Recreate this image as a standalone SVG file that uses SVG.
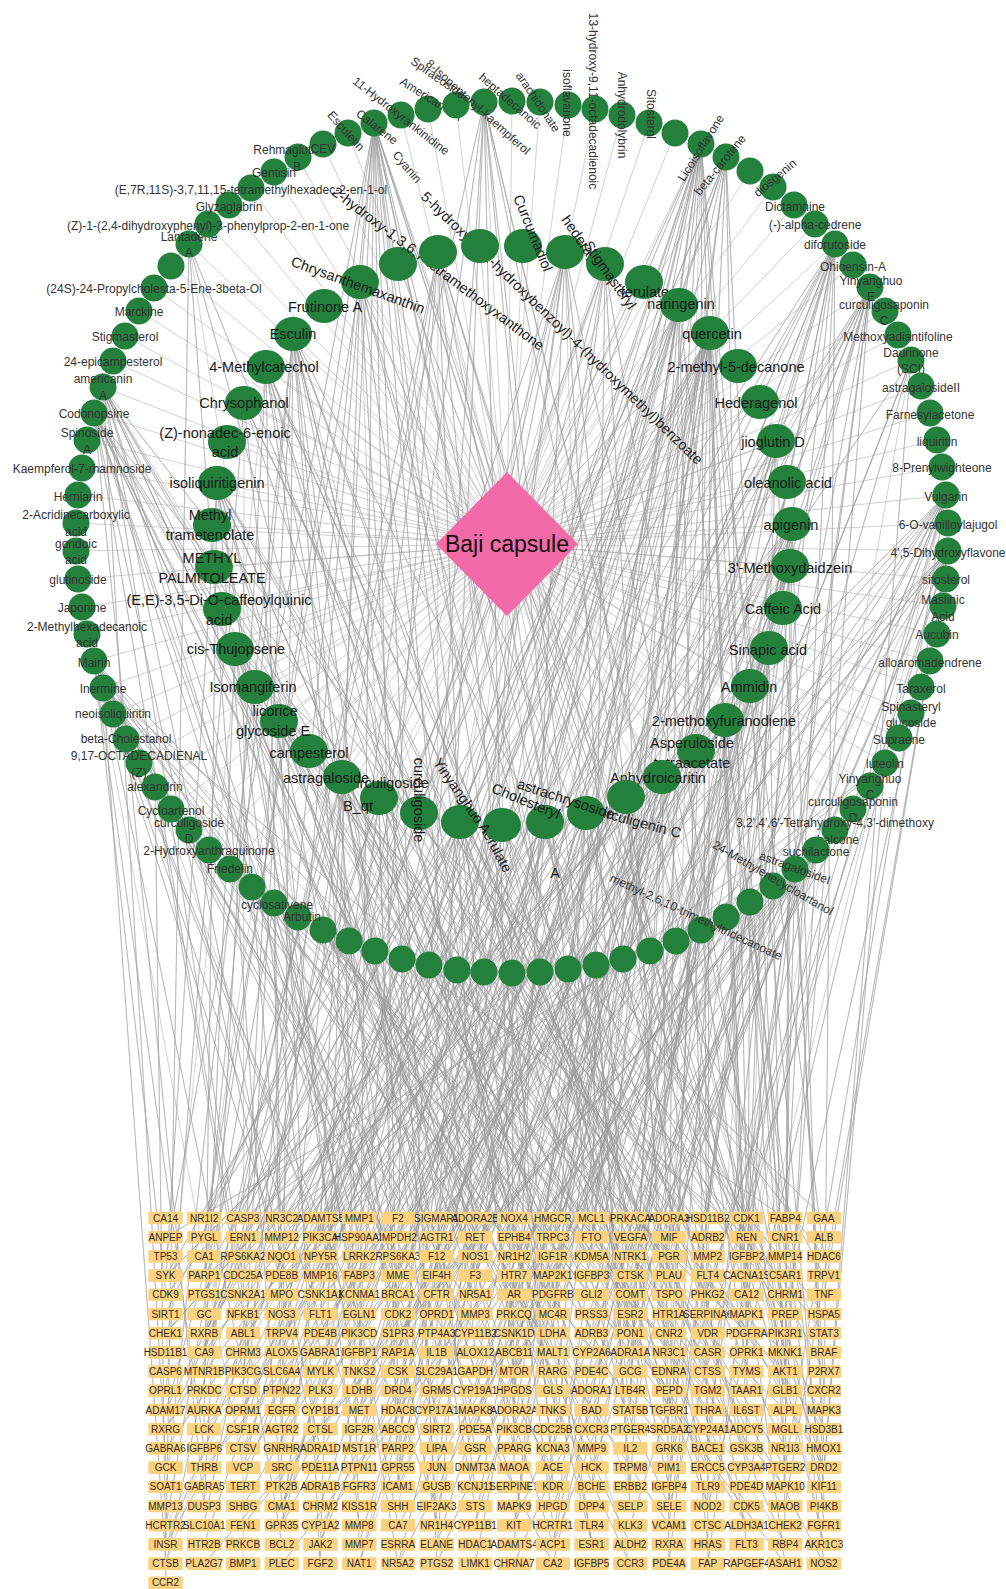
<svg xmlns="http://www.w3.org/2000/svg" width="1006" height="1589" viewBox="0 0 1006 1589">
<style>
text{font-family:"Liberation Sans",Arial,sans-serif;text-anchor:middle;dominant-baseline:central}
.e path{fill:none;stroke:#9c9c9c;stroke-width:.55;stroke-linejoin:round;opacity:.85}
.o circle{fill:#23803d}
.o text{font-size:12px;fill:#333}
.i ellipse{fill:#23803d}
.i text{font-size:14.5px;fill:#1a1a1a}
.t text{font-size:10px;fill:#2a2a2a}
.st{text-anchor:start}
</style>
<defs><rect id="b" x="-17.2" y="-6.3" width="34.5" height="12.6" rx="1.5" fill="#fdd27f"/></defs>
<rect width="1006" height="1589" fill="#fff"/>
<g id="edges" class="e">
<path d="M507 544L212 525M507 544L217 483M507 544L227 442M507 544L244 403M507 544L266 367M507 544L293 334M507 544L324 306M507 544L360 282M507 544L398 264M507 544L438 252M507 544L480 246M507 544L523 246M507 544L565 252M507 544L605 264M507 544L644 282M507 544L679 305M507 544L710 333M507 544L738 366M507 544L760 402M507 544L776 441M507 544L787 482M507 544L792 524M507 544L790 566M507 544L783 608M507 544L769 648M507 544L750 686M507 544L725 720M507 544L696 751M507 544L662 777M507 544L626 797M507 544L586 813M507 544L545 822M507 544L502 825M507 544L460 822M507 544L419 813M507 544L379 798M507 544L342 777M507 544L309 751M507 544L279 721M507 544L255 687M507 544L235 649M507 544L222 609M507 544L214 567"/>
<path d="M507 544L76 523M507 544L78 495M507 544L82 468M507 544L87 440M507 544L94 413M507 544L103 387M507 544L113 361M507 544L125 336M507 544L139 311M507 544L154 288M507 544L171 266M507 544L189 244M507 544L208 224M507 544L229 205M507 544L251 188M507 544L274 172M507 544L298 157M507 544L323 144M507 544L348 133M507 544L374 123M507 544L401 115M507 544L428 109M507 544L456 105M507 544L484 102M507 544L512 101M507 544L540 102M507 544L568 105M507 544L595 109M507 544L622 115M507 544L649 123M507 544L675 133M507 544L701 144M507 544L726 157M507 544L750 171M507 544L773 187M507 544L794 205M507 544L815 224M507 544L835 244M507 544L853 265M507 544L870 287M507 544L885 311M507 544L898 335M507 544L911 360M507 544L921 386M507 544L930 413M507 544L937 440M507 544L942 467M507 544L946 495M507 544L948 523M507 544L948 551M507 544L946 579M507 544L943 606M507 544L937 634M507 544L930 661M507 544L921 687M507 544L911 713M507 544L899 738M507 544L885 763M507 544L870 786M507 544L853 809M507 544L835 830M507 544L816 850M507 544L795 869M507 544L773 886M507 544L750 902M507 544L726 917M507 544L701 930M507 544L676 941M507 544L650 951M507 544L623 959M507 544L596 965M507 544L568 969M507 544L540 972M507 544L512 973M507 544L484 972M507 544L457 970M507 544L429 965M507 544L402 959M507 544L375 951M507 544L349 941M507 544L323 930M507 544L298 917M507 544L274 903M507 544L252 887M507 544L230 869M507 544L209 850M507 544L189 830M507 544L171 809M507 544L155 787M507 544L139 763M507 544L126 739M507 544L113 714M507 544L103 688M507 544L94 661M507 544L87 634M507 544L82 607M507 544L78 579M507 544L76 551"/>
<path d="M374 123L282 1218 374 123 475 1352 374 123 669 1487 374 123 166 1256 374 123 359 1391 374 123 553 1525 374 123 747 1295 374 123 243 1429 374 123 437 1564 374 123 630 1333 374 123 824 1468 374 123 320 1237 374 123 514 1372 374 123 708 1506 374 123 204 1276 374 123 398 1410 374 123 592 1544 374 123 785 1314"/>
<path d="M484 102L437 1276 484 102 630 1410 484 102 824 1544 484 102 320 1314 484 102 514 1448 484 102 708 1218 484 102 204 1352 484 102 398 1487 484 102 592 1256 484 102 785 1391"/>
<path d="M701 144L166 1314 701 144 359 1448 701 144 553 1218 701 144 747 1352 701 144 243 1487 701 144 437 1256 701 144 630 1391 701 144 824 1525 701 144 320 1295 701 144 514 1429 701 144 708 1564 701 144 204 1333 701 144 398 1468 701 144 592 1237 701 144 785 1372 701 144 282 1506 701 144 475 1276 701 144 669 1410"/>
<path d="M726 157L592 1237 726 157 785 1372 726 157 282 1506 726 157 475 1276 726 157 669 1410 726 157 166 1544 726 157 359 1314 726 157 553 1448 726 157 747 1218 726 157 243 1352"/>
<path d="M835 244L243 1372 835 244 437 1506 835 244 630 1276 835 244 824 1410 835 244 320 1544 835 244 514 1314 835 244 708 1448 835 244 204 1218 835 244 398 1352 835 244 592 1487 835 244 785 1256 835 244 282 1391 835 244 475 1525 835 244 669 1295 835 244 166 1429 835 244 359 1564"/>
<path d="M870 287L514 1429 870 287 708 1564 870 287 204 1333 870 287 398 1468 870 287 592 1237 870 287 785 1372 870 287 282 1506 870 287 475 1276 870 287 669 1410 870 287 166 1544 870 287 359 1314 870 287 553 1448 870 287 747 1218 870 287 243 1352"/>
<path d="M94 413L359 1256 94 413 553 1391 94 413 747 1525 94 413 243 1295 94 413 437 1429 94 413 630 1564 94 413 824 1333 94 413 320 1468 94 413 514 1237 94 413 708 1372 94 413 204 1506 94 413 398 1276 94 413 592 1410 94 413 785 1544"/>
<path d="M103 387L669 1333 103 387 166 1468 103 387 359 1237 103 387 553 1372 103 387 747 1506 103 387 243 1276 103 387 437 1410 103 387 630 1544 103 387 824 1314 103 387 320 1448 103 387 514 1218 103 387 708 1352"/>
<path d="M94 661L204 1448 94 661 398 1218 94 661 592 1352 94 661 785 1487 94 661 282 1256 94 661 475 1391 94 661 669 1525 94 661 166 1295 94 661 359 1429 94 661 553 1564 94 661 747 1333 94 661 243 1468"/>
<path d="M103 688L475 1295 103 688 669 1429 103 688 166 1564 103 688 359 1333 103 688 553 1468 103 688 747 1237 103 688 243 1372 103 688 437 1506 103 688 630 1276 103 688 824 1410"/>
<path d="M946 495L320 1391 946 495 514 1525 946 495 708 1295 946 495 204 1429 946 495 398 1564 946 495 592 1333 946 495 785 1468 946 495 282 1237 946 495 475 1372 946 495 669 1506 946 495 166 1276 946 495 359 1410 946 495 553 1544 946 495 747 1314"/>
<path d="M948 551L747 1487 948 551 243 1256 948 551 437 1391 948 551 630 1525 948 551 824 1295 948 551 320 1429 948 551 514 1564 948 551 708 1333 948 551 204 1468 948 551 398 1237 948 551 592 1372 948 551 785 1506 948 551 282 1276 948 551 475 1410"/>
<path d="M816 850L398 1525 816 850 592 1295 816 850 785 1429 816 850 282 1564 816 850 475 1333 816 850 669 1468 816 850 166 1237 816 850 359 1372 816 850 553 1506 816 850 747 1276"/>
<path d="M795 869L630 1256 795 869 824 1391 795 869 320 1525 795 869 514 1295 795 869 708 1429 795 869 204 1564 795 869 398 1333 795 869 592 1468 795 869 785 1237 795 869 282 1372"/>
<path d="M596 965L553 1314 596 965 747 1448 596 965 243 1218 596 965 437 1352 596 965 630 1487 596 965 824 1256 596 965 320 1391 596 965 514 1525"/>
<path d="M402 959L708 1410 402 959 204 1544 402 959 398 1314 402 959 592 1448 402 959 785 1218 402 959 282 1352 402 959 475 1487 402 959 669 1256"/>
<path d="M274 903L785 1352 274 903 282 1487 274 903 475 1256 274 903 669 1391 274 903 166 1525 274 903 359 1295"/>
<path d="M885 763L824 1468 885 763 320 1237 885 763 514 1372 885 763 708 1506 885 763 204 1276 885 763 398 1410"/>
<path d="M189 244L282 1506 189 244 475 1276 189 244 669 1410 189 244 166 1544 189 244 359 1314"/>
<path d="M911 360L437 1564 911 360 630 1333 911 360 824 1468 911 360 320 1237 911 360 514 1372 911 360 708 1506"/>
<path d="M293 334L204 1276 293 334 398 1410 293 334 592 1544 293 334 785 1314 293 334 282 1448 293 334 475 1218 293 334 669 1352 293 334 166 1487 293 334 359 1256 293 334 553 1391 293 334 747 1525 293 334 243 1295 293 334 437 1429 293 334 630 1564"/>
<path d="M266 367L514 1237 266 367 708 1372 266 367 204 1506 266 367 398 1276 266 367 592 1410 266 367 785 1544 266 367 282 1314 266 367 475 1448 266 367 669 1218 266 367 166 1352"/>
<path d="M710 333L166 1410 710 333 359 1544 710 333 553 1314 710 333 747 1448 710 333 243 1218 710 333 437 1352 710 333 630 1487 710 333 824 1256 710 333 320 1391 710 333 514 1525 710 333 708 1295 710 333 204 1429 710 333 398 1564 710 333 592 1333 710 333 785 1468 710 333 282 1237 710 333 475 1372 710 333 669 1506 710 333 166 1276 710 333 359 1410 710 333 553 1544 710 333 747 1314 710 333 243 1448 710 333 437 1218"/>
<path d="M679 305L320 1544 679 305 514 1314 679 305 708 1448 679 305 204 1218 679 305 398 1352 679 305 592 1487 679 305 785 1256 679 305 282 1391 679 305 475 1525 679 305 669 1295 679 305 166 1429 679 305 359 1564"/>
<path d="M792 524L592 1352 792 524 785 1487 792 524 282 1256 792 524 475 1391 792 524 669 1525 792 524 166 1295 792 524 359 1429 792 524 553 1564 792 524 747 1333 792 524 243 1468 792 524 437 1237 792 524 630 1372 792 524 824 1506 792 524 320 1276"/>
<path d="M217 483L708 1295 217 483 204 1429 217 483 398 1564 217 483 592 1333 217 483 785 1468 217 483 282 1237 217 483 475 1372 217 483 669 1506 217 483 166 1276 217 483 359 1410 217 483 553 1544 217 483 747 1314"/>
<path d="M565 252L243 1468 565 252 437 1237 565 252 630 1372 565 252 824 1506 565 252 320 1276 565 252 514 1410 565 252 708 1544 565 252 204 1314 565 252 398 1448 565 252 592 1218"/>
<path d="M438 252L785 1391 438 252 282 1525 438 252 475 1295 438 252 669 1429 438 252 166 1564 438 252 359 1333 438 252 553 1468 438 252 747 1237 438 252 243 1372 438 252 437 1506"/>
<path d="M769 648L398 1256 769 648 592 1391 769 648 785 1525 769 648 282 1295 769 648 475 1429 769 648 669 1564 769 648 166 1333 769 648 359 1468 769 648 553 1237 769 648 747 1372"/>
<path d="M725 720L669 1506 725 720 166 1276 725 720 359 1410 725 720 553 1544 725 720 747 1314 725 720 243 1448 725 720 437 1218 725 720 630 1352 725 720 824 1487 725 720 320 1256"/>
<path d="M662 777L475 1429 662 777 669 1564 662 777 166 1333 662 777 359 1468 662 777 553 1237 662 777 747 1372 662 777 243 1506 662 777 437 1276 662 777 630 1410 662 777 824 1544"/>
<path d="M586 813L359 1564 586 813 553 1333 586 813 747 1468 586 813 243 1237 586 813 437 1372 586 813 630 1506 586 813 824 1276 586 813 320 1410 586 813 514 1544 586 813 708 1314"/>
<path d="M460 822L630 1333 460 822 824 1468 460 822 320 1237 460 822 514 1372 460 822 708 1506 460 822 204 1276 460 822 398 1410 460 822 592 1544 460 822 785 1314 460 822 282 1448"/>
<path d="M342 777L282 1372 342 777 475 1506 342 777 669 1276 342 777 166 1410 342 777 359 1544 342 777 553 1314 342 777 747 1448 342 777 243 1218 342 777 437 1352 342 777 630 1487"/>
<path d="M279 721L553 1487 279 721 747 1256 279 721 243 1391 279 721 437 1525 279 721 630 1295 279 721 824 1429 279 721 320 1564 279 721 514 1333 279 721 708 1468 279 721 204 1237"/>
<path d="M235 649L824 1218 235 649 320 1352 235 649 514 1487 235 649 708 1256 235 649 204 1391 235 649 398 1525 235 649 592 1295 235 649 785 1429"/>
<path d="M776 441L747 1276 776 441 243 1410 776 441 437 1544 776 441 630 1314 776 441 824 1448 776 441 320 1218 776 441 514 1352 776 441 708 1487"/>
<path d="M360 282L437 1525 360 282 630 1295 360 282 824 1429 360 282 320 1564 360 282 514 1333 360 282 708 1468 360 282 204 1237 360 282 398 1372"/>
<path d="M605 264L204 1352 605 264 398 1487 605 264 592 1256 605 264 785 1391 605 264 282 1525 605 264 475 1295 605 264 669 1429 605 264 166 1564"/>
<path d="M790 566L514 1448 790 566 708 1218 790 566 204 1352 790 566 398 1487 790 566 592 1256 790 566 785 1391 790 566 282 1525 790 566 475 1295"/>
<path d="M244 403L669 1256 244 403 166 1391 244 403 359 1525 244 403 553 1295 244 403 747 1429 244 403 243 1564"/>
<path d="M379 798L320 1314 379 798 514 1448 379 798 708 1218 379 798 204 1352 379 798 398 1487 379 798 592 1256 379 798 785 1391 379 798 282 1525"/>
<path d="M545 822L243 1333 545 822 437 1468 545 822 630 1237 545 822 824 1372 545 822 320 1506 545 822 514 1256 545 822 708 1391 545 822 166 1525"/>
<path d="M502 825L359 1352 502 825 553 1487 502 825 747 1256 502 825 243 1410 502 825 437 1544 502 825 630 1314 502 825 785 1448 502 825 204 1295"/>
<path d="M626 797L282 1429 626 797 475 1564 626 797 669 1333 626 797 166 1448 626 797 359 1276 626 797 553 1410 626 797 747 1544 626 797 824 1352"/>
<path d="M701 930L398 1295 701 930 592 1429 701 930 785 1564 701 930 282 1333 701 930 475 1468 701 930 669 1237 701 930 166 1372"/>
<path d="M323 930L514 1256 323 930 708 1391 323 930 204 1525 323 930 398 1295 323 930 592 1429 323 930 785 1564 323 930 630 1333"/>
<path d="M512 973L437 1295 512 973 630 1429 512 973 824 1564 512 973 320 1333 512 973 514 1468 512 973 708 1237 512 973 204 1372 512 973 398 1506"/>
<path d="M750 902L553 1256 750 902 747 1391 750 902 243 1525 750 902 437 1295 750 902 630 1429 750 902 824 1564 750 902 320 1333"/>
<path d="M155 787L592 1276 155 787 785 1410 155 787 282 1544 155 787 475 1314 155 787 669 1448 155 787 166 1583 155 787 359 1352"/>
</g>
<g id="targets" class="t">
<g transform="translate(0,1218)">
<g id="t-CA14" transform="translate(165.5)"><use href="#b"/><text>CA14</text></g>
<g id="t-NR1I2" transform="translate(204.2)"><use href="#b"/><text>NR1I2</text></g>
<g id="t-CASP3" transform="translate(243)"><use href="#b"/><text>CASP3</text></g>
<g id="t-NR3C2" transform="translate(281.7)"><use href="#b"/><text>NR3C2</text></g>
<g id="t-ADAMTS5" transform="translate(320.4)"><use href="#b"/><text>ADAMTS5</text></g>
<g id="t-MMP1" transform="translate(359.2)"><use href="#b"/><text>MMP1</text></g>
<g id="t-F2" transform="translate(397.9)"><use href="#b"/><text>F2</text></g>
<g id="t-SIGMAR1" transform="translate(436.6)"><use href="#b"/><text>SIGMAR1</text></g>
<g id="t-ADORA2B" transform="translate(475.3)"><use href="#b"/><text>ADORA2B</text></g>
<g id="t-NOX4" transform="translate(514.1)"><use href="#b"/><text>NOX4</text></g>
<g id="t-HMGCR" transform="translate(552.8)"><use href="#b"/><text>HMGCR</text></g>
<g id="t-MCL1" transform="translate(591.5)"><use href="#b"/><text>MCL1</text></g>
<g id="t-PRKACA" transform="translate(630.3)"><use href="#b"/><text>PRKACA</text></g>
<g id="t-ADORA3" transform="translate(669)"><use href="#b"/><text>ADORA3</text></g>
<g id="t-HSD11B2" transform="translate(707.7)"><use href="#b"/><text>HSD11B2</text></g>
<g id="t-CDK1" transform="translate(746.5)"><use href="#b"/><text>CDK1</text></g>
<g id="t-FABP4" transform="translate(785.2)"><use href="#b"/><text>FABP4</text></g>
<g id="t-GAA" transform="translate(823.9)"><use href="#b"/><text>GAA</text></g>
</g>
<g transform="translate(0,1237.2)">
<g id="t-ANPEP" transform="translate(165.5)"><use href="#b"/><text>ANPEP</text></g>
<g id="t-PYGL" transform="translate(204.2)"><use href="#b"/><text>PYGL</text></g>
<g id="t-ERN1" transform="translate(243)"><use href="#b"/><text>ERN1</text></g>
<g id="t-MMP12" transform="translate(281.7)"><use href="#b"/><text>MMP12</text></g>
<g id="t-PIK3CA" transform="translate(320.4)"><use href="#b"/><text>PIK3CA</text></g>
<g id="t-HSP90AA1" transform="translate(359.2)"><use href="#b"/><text>HSP90AA1</text></g>
<g id="t-IMPDH2" transform="translate(397.9)"><use href="#b"/><text>IMPDH2</text></g>
<g id="t-AGTR1" transform="translate(436.6)"><use href="#b"/><text>AGTR1</text></g>
<g id="t-RET" transform="translate(475.3)"><use href="#b"/><text>RET</text></g>
<g id="t-EPHB4" transform="translate(514.1)"><use href="#b"/><text>EPHB4</text></g>
<g id="t-TRPC3" transform="translate(552.8)"><use href="#b"/><text>TRPC3</text></g>
<g id="t-FTO" transform="translate(591.5)"><use href="#b"/><text>FTO</text></g>
<g id="t-VEGFA" transform="translate(630.3)"><use href="#b"/><text>VEGFA</text></g>
<g id="t-MIF" transform="translate(669)"><use href="#b"/><text>MIF</text></g>
<g id="t-ADRB2" transform="translate(707.7)"><use href="#b"/><text>ADRB2</text></g>
<g id="t-REN" transform="translate(746.5)"><use href="#b"/><text>REN</text></g>
<g id="t-CNR1" transform="translate(785.2)"><use href="#b"/><text>CNR1</text></g>
<g id="t-ALB" transform="translate(823.9)"><use href="#b"/><text>ALB</text></g>
</g>
<g transform="translate(0,1256.4)">
<g id="t-TP53" transform="translate(165.5)"><use href="#b"/><text>TP53</text></g>
<g id="t-CA1" transform="translate(204.2)"><use href="#b"/><text>CA1</text></g>
<g id="t-RPS6KA2" transform="translate(243)"><use href="#b"/><text>RPS6KA2</text></g>
<g id="t-NQO1" transform="translate(281.7)"><use href="#b"/><text>NQO1</text></g>
<g id="t-NPY5R" transform="translate(320.4)"><use href="#b"/><text>NPY5R</text></g>
<g id="t-LRRK2" transform="translate(359.2)"><use href="#b"/><text>LRRK2</text></g>
<g id="t-RPS6KA3" transform="translate(397.9)"><use href="#b"/><text>RPS6KA3</text></g>
<g id="t-F12" transform="translate(436.6)"><use href="#b"/><text>F12</text></g>
<g id="t-NOS1" transform="translate(475.3)"><use href="#b"/><text>NOS1</text></g>
<g id="t-NR1H2" transform="translate(514.1)"><use href="#b"/><text>NR1H2</text></g>
<g id="t-IGF1R" transform="translate(552.8)"><use href="#b"/><text>IGF1R</text></g>
<g id="t-KDM5A" transform="translate(591.5)"><use href="#b"/><text>KDM5A</text></g>
<g id="t-NTRK1" transform="translate(630.3)"><use href="#b"/><text>NTRK1</text></g>
<g id="t-PGR" transform="translate(669)"><use href="#b"/><text>PGR</text></g>
<g id="t-MMP2" transform="translate(707.7)"><use href="#b"/><text>MMP2</text></g>
<g id="t-IGFBP2" transform="translate(746.5)"><use href="#b"/><text>IGFBP2</text></g>
<g id="t-MMP14" transform="translate(785.2)"><use href="#b"/><text>MMP14</text></g>
<g id="t-HDAC6" transform="translate(823.9)"><use href="#b"/><text>HDAC6</text></g>
</g>
<g transform="translate(0,1275.6)">
<g id="t-SYK" transform="translate(165.5)"><use href="#b"/><text>SYK</text></g>
<g id="t-PARP1" transform="translate(204.2)"><use href="#b"/><text>PARP1</text></g>
<g id="t-CDC25A" transform="translate(243)"><use href="#b"/><text>CDC25A</text></g>
<g id="t-PDE8B" transform="translate(281.7)"><use href="#b"/><text>PDE8B</text></g>
<g id="t-MMP16" transform="translate(320.4)"><use href="#b"/><text>MMP16</text></g>
<g id="t-FABP3" transform="translate(359.2)"><use href="#b"/><text>FABP3</text></g>
<g id="t-MME" transform="translate(397.9)"><use href="#b"/><text>MME</text></g>
<g id="t-EIF4H" transform="translate(436.6)"><use href="#b"/><text>EIF4H</text></g>
<g id="t-F3" transform="translate(475.3)"><use href="#b"/><text>F3</text></g>
<g id="t-HTR7" transform="translate(514.1)"><use href="#b"/><text>HTR7</text></g>
<g id="t-MAP2K1" transform="translate(552.8)"><use href="#b"/><text>MAP2K1</text></g>
<g id="t-IGFBP3" transform="translate(591.5)"><use href="#b"/><text>IGFBP3</text></g>
<g id="t-CTSK" transform="translate(630.3)"><use href="#b"/><text>CTSK</text></g>
<g id="t-PLAU" transform="translate(669)"><use href="#b"/><text>PLAU</text></g>
<g id="t-FLT4" transform="translate(707.7)"><use href="#b"/><text>FLT4</text></g>
<g id="t-CACNA1S" transform="translate(746.5)"><use href="#b"/><text>CACNA1S</text></g>
<g id="t-C5AR1" transform="translate(785.2)"><use href="#b"/><text>C5AR1</text></g>
<g id="t-TRPV1" transform="translate(823.9)"><use href="#b"/><text>TRPV1</text></g>
</g>
<g transform="translate(0,1294.8)">
<g id="t-CDK9" transform="translate(165.5)"><use href="#b"/><text>CDK9</text></g>
<g id="t-PTGS1" transform="translate(204.2)"><use href="#b"/><text>PTGS1</text></g>
<g id="t-CSNK2A1" transform="translate(243)"><use href="#b"/><text>CSNK2A1</text></g>
<g id="t-MPO" transform="translate(281.7)"><use href="#b"/><text>MPO</text></g>
<g id="t-CSNK1A1" transform="translate(320.4)"><use href="#b"/><text>CSNK1A1</text></g>
<g id="t-KCNMA1" transform="translate(359.2)"><use href="#b"/><text>KCNMA1</text></g>
<g id="t-BRCA1" transform="translate(397.9)"><use href="#b"/><text>BRCA1</text></g>
<g id="t-CFTR" transform="translate(436.6)"><use href="#b"/><text>CFTR</text></g>
<g id="t-NR5A1" transform="translate(475.3)"><use href="#b"/><text>NR5A1</text></g>
<g id="t-AR" transform="translate(514.1)"><use href="#b"/><text>AR</text></g>
<g id="t-PDGFRB" transform="translate(552.8)"><use href="#b"/><text>PDGFRB</text></g>
<g id="t-GLI2" transform="translate(591.5)"><use href="#b"/><text>GLI2</text></g>
<g id="t-COMT" transform="translate(630.3)"><use href="#b"/><text>COMT</text></g>
<g id="t-TSPO" transform="translate(669)"><use href="#b"/><text>TSPO</text></g>
<g id="t-PHKG2" transform="translate(707.7)"><use href="#b"/><text>PHKG2</text></g>
<g id="t-CA12" transform="translate(746.5)"><use href="#b"/><text>CA12</text></g>
<g id="t-CHRM1" transform="translate(785.2)"><use href="#b"/><text>CHRM1</text></g>
<g id="t-TNF" transform="translate(823.9)"><use href="#b"/><text>TNF</text></g>
</g>
<g transform="translate(0,1314)">
<g id="t-SIRT1" transform="translate(165.5)"><use href="#b"/><text>SIRT1</text></g>
<g id="t-GC" transform="translate(204.2)"><use href="#b"/><text>GC</text></g>
<g id="t-NFKB1" transform="translate(243)"><use href="#b"/><text>NFKB1</text></g>
<g id="t-NOS3" transform="translate(281.7)"><use href="#b"/><text>NOS3</text></g>
<g id="t-FLT1" transform="translate(320.4)"><use href="#b"/><text>FLT1</text></g>
<g id="t-EGLN1" transform="translate(359.2)"><use href="#b"/><text>EGLN1</text></g>
<g id="t-CDK2" transform="translate(397.9)"><use href="#b"/><text>CDK2</text></g>
<g id="t-OPRD1" transform="translate(436.6)"><use href="#b"/><text>OPRD1</text></g>
<g id="t-MMP3" transform="translate(475.3)"><use href="#b"/><text>MMP3</text></g>
<g id="t-PRKCQ" transform="translate(514.1)"><use href="#b"/><text>PRKCQ</text></g>
<g id="t-MC4R" transform="translate(552.8)"><use href="#b"/><text>MC4R</text></g>
<g id="t-PRSS3" transform="translate(591.5)"><use href="#b"/><text>PRSS3</text></g>
<g id="t-ESR2" transform="translate(630.3)"><use href="#b"/><text>ESR2</text></g>
<g id="t-HTR1A" transform="translate(669)"><use href="#b"/><text>HTR1A</text></g>
<g id="t-SERPINA6" transform="translate(707.7)"><use href="#b"/><text>SERPINA6</text></g>
<g id="t-MAPK1" transform="translate(746.5)"><use href="#b"/><text>MAPK1</text></g>
<g id="t-PREP" transform="translate(785.2)"><use href="#b"/><text>PREP</text></g>
<g id="t-HSPA5" transform="translate(823.9)"><use href="#b"/><text>HSPA5</text></g>
</g>
<g transform="translate(0,1333.2)">
<g id="t-CHEK1" transform="translate(165.5)"><use href="#b"/><text>CHEK1</text></g>
<g id="t-RXRB" transform="translate(204.2)"><use href="#b"/><text>RXRB</text></g>
<g id="t-ABL1" transform="translate(243)"><use href="#b"/><text>ABL1</text></g>
<g id="t-TRPV4" transform="translate(281.7)"><use href="#b"/><text>TRPV4</text></g>
<g id="t-PDE4B" transform="translate(320.4)"><use href="#b"/><text>PDE4B</text></g>
<g id="t-PIK3CD" transform="translate(359.2)"><use href="#b"/><text>PIK3CD</text></g>
<g id="t-S1PR3" transform="translate(397.9)"><use href="#b"/><text>S1PR3</text></g>
<g id="t-PTP4A3" transform="translate(436.6)"><use href="#b"/><text>PTP4A3</text></g>
<g id="t-CYP11B2" transform="translate(475.3)"><use href="#b"/><text>CYP11B2</text></g>
<g id="t-CSNK1D" transform="translate(514.1)"><use href="#b"/><text>CSNK1D</text></g>
<g id="t-LDHA" transform="translate(552.8)"><use href="#b"/><text>LDHA</text></g>
<g id="t-ADRB3" transform="translate(591.5)"><use href="#b"/><text>ADRB3</text></g>
<g id="t-PON1" transform="translate(630.3)"><use href="#b"/><text>PON1</text></g>
<g id="t-CNR2" transform="translate(669)"><use href="#b"/><text>CNR2</text></g>
<g id="t-VDR" transform="translate(707.7)"><use href="#b"/><text>VDR</text></g>
<g id="t-PDGFRA" transform="translate(746.5)"><use href="#b"/><text>PDGFRA</text></g>
<g id="t-PIK3R1" transform="translate(785.2)"><use href="#b"/><text>PIK3R1</text></g>
<g id="t-STAT3" transform="translate(823.9)"><use href="#b"/><text>STAT3</text></g>
</g>
<g transform="translate(0,1352.4)">
<g id="t-HSD11B1" transform="translate(165.5)"><use href="#b"/><text>HSD11B1</text></g>
<g id="t-CA9" transform="translate(204.2)"><use href="#b"/><text>CA9</text></g>
<g id="t-CHRM3" transform="translate(243)"><use href="#b"/><text>CHRM3</text></g>
<g id="t-ALOX5" transform="translate(281.7)"><use href="#b"/><text>ALOX5</text></g>
<g id="t-GABRA1" transform="translate(320.4)"><use href="#b"/><text>GABRA1</text></g>
<g id="t-IGFBP1" transform="translate(359.2)"><use href="#b"/><text>IGFBP1</text></g>
<g id="t-RAP1A" transform="translate(397.9)"><use href="#b"/><text>RAP1A</text></g>
<g id="t-IL1B" transform="translate(436.6)"><use href="#b"/><text>IL1B</text></g>
<g id="t-ALOX12" transform="translate(475.3)"><use href="#b"/><text>ALOX12</text></g>
<g id="t-ABCB11" transform="translate(514.1)"><use href="#b"/><text>ABCB11</text></g>
<g id="t-MALT1" transform="translate(552.8)"><use href="#b"/><text>MALT1</text></g>
<g id="t-CYP2A6" transform="translate(591.5)"><use href="#b"/><text>CYP2A6</text></g>
<g id="t-ADRA1A" transform="translate(630.3)"><use href="#b"/><text>ADRA1A</text></g>
<g id="t-NR3C1" transform="translate(669)"><use href="#b"/><text>NR3C1</text></g>
<g id="t-CASR" transform="translate(707.7)"><use href="#b"/><text>CASR</text></g>
<g id="t-OPRK1" transform="translate(746.5)"><use href="#b"/><text>OPRK1</text></g>
<g id="t-MKNK1" transform="translate(785.2)"><use href="#b"/><text>MKNK1</text></g>
<g id="t-BRAF" transform="translate(823.9)"><use href="#b"/><text>BRAF</text></g>
</g>
<g transform="translate(0,1371.6)">
<g id="t-CASP6" transform="translate(165.5)"><use href="#b"/><text>CASP6</text></g>
<g id="t-MTNR1B" transform="translate(204.2)"><use href="#b"/><text>MTNR1B</text></g>
<g id="t-PIK3CG" transform="translate(243)"><use href="#b"/><text>PIK3CG</text></g>
<g id="t-SLC6A4" transform="translate(281.7)"><use href="#b"/><text>SLC6A4</text></g>
<g id="t-MYLK" transform="translate(320.4)"><use href="#b"/><text>MYLK</text></g>
<g id="t-TNKS2" transform="translate(359.2)"><use href="#b"/><text>TNKS2</text></g>
<g id="t-CSK" transform="translate(397.9)"><use href="#b"/><text>CSK</text></g>
<g id="t-SLC29A1" transform="translate(436.6)"><use href="#b"/><text>SLC29A1</text></g>
<g id="t-GAPDH" transform="translate(475.3)"><use href="#b"/><text>GAPDH</text></g>
<g id="t-MTOR" transform="translate(514.1)"><use href="#b"/><text>MTOR</text></g>
<g id="t-RARG" transform="translate(552.8)"><use href="#b"/><text>RARG</text></g>
<g id="t-PDE4C" transform="translate(591.5)"><use href="#b"/><text>PDE4C</text></g>
<g id="t-GCG" transform="translate(630.3)"><use href="#b"/><text>GCG</text></g>
<g id="t-EDNRA" transform="translate(669)"><use href="#b"/><text>EDNRA</text></g>
<g id="t-CTSS" transform="translate(707.7)"><use href="#b"/><text>CTSS</text></g>
<g id="t-TYMS" transform="translate(746.5)"><use href="#b"/><text>TYMS</text></g>
<g id="t-AKT1" transform="translate(785.2)"><use href="#b"/><text>AKT1</text></g>
<g id="t-P2RX7" transform="translate(823.9)"><use href="#b"/><text>P2RX7</text></g>
</g>
<g transform="translate(0,1390.8)">
<g id="t-OPRL1" transform="translate(165.5)"><use href="#b"/><text>OPRL1</text></g>
<g id="t-PRKDC" transform="translate(204.2)"><use href="#b"/><text>PRKDC</text></g>
<g id="t-CTSD" transform="translate(243)"><use href="#b"/><text>CTSD</text></g>
<g id="t-PTPN22" transform="translate(281.7)"><use href="#b"/><text>PTPN22</text></g>
<g id="t-PLK3" transform="translate(320.4)"><use href="#b"/><text>PLK3</text></g>
<g id="t-LDHB" transform="translate(359.2)"><use href="#b"/><text>LDHB</text></g>
<g id="t-DRD4" transform="translate(397.9)"><use href="#b"/><text>DRD4</text></g>
<g id="t-GRM5" transform="translate(436.6)"><use href="#b"/><text>GRM5</text></g>
<g id="t-CYP19A1" transform="translate(475.3)"><use href="#b"/><text>CYP19A1</text></g>
<g id="t-HPGDS" transform="translate(514.1)"><use href="#b"/><text>HPGDS</text></g>
<g id="t-GLS" transform="translate(552.8)"><use href="#b"/><text>GLS</text></g>
<g id="t-ADORA1" transform="translate(591.5)"><use href="#b"/><text>ADORA1</text></g>
<g id="t-LTB4R" transform="translate(630.3)"><use href="#b"/><text>LTB4R</text></g>
<g id="t-PEPD" transform="translate(669)"><use href="#b"/><text>PEPD</text></g>
<g id="t-TGM2" transform="translate(707.7)"><use href="#b"/><text>TGM2</text></g>
<g id="t-TAAR1" transform="translate(746.5)"><use href="#b"/><text>TAAR1</text></g>
<g id="t-GLB1" transform="translate(785.2)"><use href="#b"/><text>GLB1</text></g>
<g id="t-CXCR2" transform="translate(823.9)"><use href="#b"/><text>CXCR2</text></g>
</g>
<g transform="translate(0,1410)">
<g id="t-ADAM17" transform="translate(165.5)"><use href="#b"/><text>ADAM17</text></g>
<g id="t-AURKA" transform="translate(204.2)"><use href="#b"/><text>AURKA</text></g>
<g id="t-OPRM1" transform="translate(243)"><use href="#b"/><text>OPRM1</text></g>
<g id="t-EGFR" transform="translate(281.7)"><use href="#b"/><text>EGFR</text></g>
<g id="t-CYP1B1" transform="translate(320.4)"><use href="#b"/><text>CYP1B1</text></g>
<g id="t-MET" transform="translate(359.2)"><use href="#b"/><text>MET</text></g>
<g id="t-HDAC8" transform="translate(397.9)"><use href="#b"/><text>HDAC8</text></g>
<g id="t-CYP17A1" transform="translate(436.6)"><use href="#b"/><text>CYP17A1</text></g>
<g id="t-MAPK8" transform="translate(475.3)"><use href="#b"/><text>MAPK8</text></g>
<g id="t-ADORA2A" transform="translate(514.1)"><use href="#b"/><text>ADORA2A</text></g>
<g id="t-TNKS" transform="translate(552.8)"><use href="#b"/><text>TNKS</text></g>
<g id="t-BAD" transform="translate(591.5)"><use href="#b"/><text>BAD</text></g>
<g id="t-STAT5B" transform="translate(630.3)"><use href="#b"/><text>STAT5B</text></g>
<g id="t-TGFBR1" transform="translate(669)"><use href="#b"/><text>TGFBR1</text></g>
<g id="t-THRA" transform="translate(707.7)"><use href="#b"/><text>THRA</text></g>
<g id="t-IL6ST" transform="translate(746.5)"><use href="#b"/><text>IL6ST</text></g>
<g id="t-ALPL" transform="translate(785.2)"><use href="#b"/><text>ALPL</text></g>
<g id="t-MAPK3" transform="translate(823.9)"><use href="#b"/><text>MAPK3</text></g>
</g>
<g transform="translate(0,1429.2)">
<g id="t-RXRG" transform="translate(165.5)"><use href="#b"/><text>RXRG</text></g>
<g id="t-LCK" transform="translate(204.2)"><use href="#b"/><text>LCK</text></g>
<g id="t-CSF1R" transform="translate(243)"><use href="#b"/><text>CSF1R</text></g>
<g id="t-AGTR2" transform="translate(281.7)"><use href="#b"/><text>AGTR2</text></g>
<g id="t-CTSL" transform="translate(320.4)"><use href="#b"/><text>CTSL</text></g>
<g id="t-IGF2R" transform="translate(359.2)"><use href="#b"/><text>IGF2R</text></g>
<g id="t-ABCC9" transform="translate(397.9)"><use href="#b"/><text>ABCC9</text></g>
<g id="t-SIRT2" transform="translate(436.6)"><use href="#b"/><text>SIRT2</text></g>
<g id="t-PDE5A" transform="translate(475.3)"><use href="#b"/><text>PDE5A</text></g>
<g id="t-PIK3CB" transform="translate(514.1)"><use href="#b"/><text>PIK3CB</text></g>
<g id="t-CDC25B" transform="translate(552.8)"><use href="#b"/><text>CDC25B</text></g>
<g id="t-CXCR3" transform="translate(591.5)"><use href="#b"/><text>CXCR3</text></g>
<g id="t-PTGER4" transform="translate(630.3)"><use href="#b"/><text>PTGER4</text></g>
<g id="t-SRD5A2" transform="translate(669)"><use href="#b"/><text>SRD5A2</text></g>
<g id="t-CYP24A1" transform="translate(707.7)"><use href="#b"/><text>CYP24A1</text></g>
<g id="t-ADCY5" transform="translate(746.5)"><use href="#b"/><text>ADCY5</text></g>
<g id="t-MGLL" transform="translate(785.2)"><use href="#b"/><text>MGLL</text></g>
<g id="t-HSD3B1" transform="translate(823.9)"><use href="#b"/><text>HSD3B1</text></g>
</g>
<g transform="translate(0,1448.4)">
<g id="t-GABRA6" transform="translate(165.5)"><use href="#b"/><text>GABRA6</text></g>
<g id="t-IGFBP6" transform="translate(204.2)"><use href="#b"/><text>IGFBP6</text></g>
<g id="t-CTSV" transform="translate(243)"><use href="#b"/><text>CTSV</text></g>
<g id="t-GNRHR" transform="translate(281.7)"><use href="#b"/><text>GNRHR</text></g>
<g id="t-ADRA1D" transform="translate(320.4)"><use href="#b"/><text>ADRA1D</text></g>
<g id="t-MST1R" transform="translate(359.2)"><use href="#b"/><text>MST1R</text></g>
<g id="t-PARP2" transform="translate(397.9)"><use href="#b"/><text>PARP2</text></g>
<g id="t-LIPA" transform="translate(436.6)"><use href="#b"/><text>LIPA</text></g>
<g id="t-GSR" transform="translate(475.3)"><use href="#b"/><text>GSR</text></g>
<g id="t-PPARG" transform="translate(514.1)"><use href="#b"/><text>PPARG</text></g>
<g id="t-KCNA3" transform="translate(552.8)"><use href="#b"/><text>KCNA3</text></g>
<g id="t-MMP9" transform="translate(591.5)"><use href="#b"/><text>MMP9</text></g>
<g id="t-IL2" transform="translate(630.3)"><use href="#b"/><text>IL2</text></g>
<g id="t-GRK6" transform="translate(669)"><use href="#b"/><text>GRK6</text></g>
<g id="t-BACE1" transform="translate(707.7)"><use href="#b"/><text>BACE1</text></g>
<g id="t-GSK3B" transform="translate(746.5)"><use href="#b"/><text>GSK3B</text></g>
<g id="t-NR1I3" transform="translate(785.2)"><use href="#b"/><text>NR1I3</text></g>
<g id="t-HMOX1" transform="translate(823.9)"><use href="#b"/><text>HMOX1</text></g>
</g>
<g transform="translate(0,1467.6)">
<g id="t-GCK" transform="translate(165.5)"><use href="#b"/><text>GCK</text></g>
<g id="t-THRB" transform="translate(204.2)"><use href="#b"/><text>THRB</text></g>
<g id="t-VCP" transform="translate(243)"><use href="#b"/><text>VCP</text></g>
<g id="t-SRC" transform="translate(281.7)"><use href="#b"/><text>SRC</text></g>
<g id="t-PDE11A" transform="translate(320.4)"><use href="#b"/><text>PDE11A</text></g>
<g id="t-PTPN11" transform="translate(359.2)"><use href="#b"/><text>PTPN11</text></g>
<g id="t-GPR55" transform="translate(397.9)"><use href="#b"/><text>GPR55</text></g>
<g id="t-JUN" transform="translate(436.6)"><use href="#b"/><text>JUN</text></g>
<g id="t-DNMT3A" transform="translate(475.3)"><use href="#b"/><text>DNMT3A</text></g>
<g id="t-MAOA" transform="translate(514.1)"><use href="#b"/><text>MAOA</text></g>
<g id="t-ACE" transform="translate(552.8)"><use href="#b"/><text>ACE</text></g>
<g id="t-HCK" transform="translate(591.5)"><use href="#b"/><text>HCK</text></g>
<g id="t-TRPM8" transform="translate(630.3)"><use href="#b"/><text>TRPM8</text></g>
<g id="t-PIM1" transform="translate(669)"><use href="#b"/><text>PIM1</text></g>
<g id="t-ERCC5" transform="translate(707.7)"><use href="#b"/><text>ERCC5</text></g>
<g id="t-CYP3A4" transform="translate(746.5)"><use href="#b"/><text>CYP3A4</text></g>
<g id="t-PTGER2" transform="translate(785.2)"><use href="#b"/><text>PTGER2</text></g>
<g id="t-DRD2" transform="translate(823.9)"><use href="#b"/><text>DRD2</text></g>
</g>
<g transform="translate(0,1486.8)">
<g id="t-SOAT1" transform="translate(165.5)"><use href="#b"/><text>SOAT1</text></g>
<g id="t-GABRA5" transform="translate(204.2)"><use href="#b"/><text>GABRA5</text></g>
<g id="t-TERT" transform="translate(243)"><use href="#b"/><text>TERT</text></g>
<g id="t-PTK2B" transform="translate(281.7)"><use href="#b"/><text>PTK2B</text></g>
<g id="t-ADRA1B" transform="translate(320.4)"><use href="#b"/><text>ADRA1B</text></g>
<g id="t-FGFR3" transform="translate(359.2)"><use href="#b"/><text>FGFR3</text></g>
<g id="t-ICAM1" transform="translate(397.9)"><use href="#b"/><text>ICAM1</text></g>
<g id="t-GUSB" transform="translate(436.6)"><use href="#b"/><text>GUSB</text></g>
<g id="t-KCNJ11" transform="translate(475.3)"><use href="#b"/><text>KCNJ11</text></g>
<g id="t-SERPINE1" transform="translate(514.1)"><use href="#b"/><text>SERPINE1</text></g>
<g id="t-KDR" transform="translate(552.8)"><use href="#b"/><text>KDR</text></g>
<g id="t-BCHE" transform="translate(591.5)"><use href="#b"/><text>BCHE</text></g>
<g id="t-ERBB2" transform="translate(630.3)"><use href="#b"/><text>ERBB2</text></g>
<g id="t-IGFBP4" transform="translate(669)"><use href="#b"/><text>IGFBP4</text></g>
<g id="t-TLR9" transform="translate(707.7)"><use href="#b"/><text>TLR9</text></g>
<g id="t-PDE4D" transform="translate(746.5)"><use href="#b"/><text>PDE4D</text></g>
<g id="t-MAPK10" transform="translate(785.2)"><use href="#b"/><text>MAPK10</text></g>
<g id="t-KIF11" transform="translate(823.9)"><use href="#b"/><text>KIF11</text></g>
</g>
<g transform="translate(0,1506)">
<g id="t-MMP13" transform="translate(165.5)"><use href="#b"/><text>MMP13</text></g>
<g id="t-DUSP3" transform="translate(204.2)"><use href="#b"/><text>DUSP3</text></g>
<g id="t-SHBG" transform="translate(243)"><use href="#b"/><text>SHBG</text></g>
<g id="t-CMA1" transform="translate(281.7)"><use href="#b"/><text>CMA1</text></g>
<g id="t-CHRM2" transform="translate(320.4)"><use href="#b"/><text>CHRM2</text></g>
<g id="t-KISS1R" transform="translate(359.2)"><use href="#b"/><text>KISS1R</text></g>
<g id="t-SHH" transform="translate(397.9)"><use href="#b"/><text>SHH</text></g>
<g id="t-EIF2AK3" transform="translate(436.6)"><use href="#b"/><text>EIF2AK3</text></g>
<g id="t-STS" transform="translate(475.3)"><use href="#b"/><text>STS</text></g>
<g id="t-MAPK9" transform="translate(514.1)"><use href="#b"/><text>MAPK9</text></g>
<g id="t-HPGD" transform="translate(552.8)"><use href="#b"/><text>HPGD</text></g>
<g id="t-DPP4" transform="translate(591.5)"><use href="#b"/><text>DPP4</text></g>
<g id="t-SELP" transform="translate(630.3)"><use href="#b"/><text>SELP</text></g>
<g id="t-SELE" transform="translate(669)"><use href="#b"/><text>SELE</text></g>
<g id="t-NOD2" transform="translate(707.7)"><use href="#b"/><text>NOD2</text></g>
<g id="t-CDK5" transform="translate(746.5)"><use href="#b"/><text>CDK5</text></g>
<g id="t-MAOB" transform="translate(785.2)"><use href="#b"/><text>MAOB</text></g>
<g id="t-PI4KB" transform="translate(823.9)"><use href="#b"/><text>PI4KB</text></g>
</g>
<g transform="translate(0,1525.2)">
<g id="t-HCRTR2" transform="translate(165.5)"><use href="#b"/><text>HCRTR2</text></g>
<g id="t-SLC10A1" transform="translate(204.2)"><use href="#b"/><text>SLC10A1</text></g>
<g id="t-FEN1" transform="translate(243)"><use href="#b"/><text>FEN1</text></g>
<g id="t-GPR35" transform="translate(281.7)"><use href="#b"/><text>GPR35</text></g>
<g id="t-CYP1A2" transform="translate(320.4)"><use href="#b"/><text>CYP1A2</text></g>
<g id="t-MMP8" transform="translate(359.2)"><use href="#b"/><text>MMP8</text></g>
<g id="t-CA7" transform="translate(397.9)"><use href="#b"/><text>CA7</text></g>
<g id="t-NR1H4" transform="translate(436.6)"><use href="#b"/><text>NR1H4</text></g>
<g id="t-CYP11B1" transform="translate(475.3)"><use href="#b"/><text>CYP11B1</text></g>
<g id="t-KIT" transform="translate(514.1)"><use href="#b"/><text>KIT</text></g>
<g id="t-HCRTR1" transform="translate(552.8)"><use href="#b"/><text>HCRTR1</text></g>
<g id="t-TLR4" transform="translate(591.5)"><use href="#b"/><text>TLR4</text></g>
<g id="t-KLK3" transform="translate(630.3)"><use href="#b"/><text>KLK3</text></g>
<g id="t-VCAM1" transform="translate(669)"><use href="#b"/><text>VCAM1</text></g>
<g id="t-CTSC" transform="translate(707.7)"><use href="#b"/><text>CTSC</text></g>
<g id="t-ALDH3A1" transform="translate(746.5)"><use href="#b"/><text>ALDH3A1</text></g>
<g id="t-CHEK2" transform="translate(785.2)"><use href="#b"/><text>CHEK2</text></g>
<g id="t-FGFR1" transform="translate(823.9)"><use href="#b"/><text>FGFR1</text></g>
</g>
<g transform="translate(0,1544.4)">
<g id="t-INSR" transform="translate(165.5)"><use href="#b"/><text>INSR</text></g>
<g id="t-HTR2B" transform="translate(204.2)"><use href="#b"/><text>HTR2B</text></g>
<g id="t-PRKCB" transform="translate(243)"><use href="#b"/><text>PRKCB</text></g>
<g id="t-BCL2" transform="translate(281.7)"><use href="#b"/><text>BCL2</text></g>
<g id="t-JAK2" transform="translate(320.4)"><use href="#b"/><text>JAK2</text></g>
<g id="t-MMP7" transform="translate(359.2)"><use href="#b"/><text>MMP7</text></g>
<g id="t-ESRRA" transform="translate(397.9)"><use href="#b"/><text>ESRRA</text></g>
<g id="t-ELANE" transform="translate(436.6)"><use href="#b"/><text>ELANE</text></g>
<g id="t-HDAC1" transform="translate(475.3)"><use href="#b"/><text>HDAC1</text></g>
<g id="t-ADAMTS4" transform="translate(514.1)"><use href="#b"/><text>ADAMTS4</text></g>
<g id="t-ACP1" transform="translate(552.8)"><use href="#b"/><text>ACP1</text></g>
<g id="t-ESR1" transform="translate(591.5)"><use href="#b"/><text>ESR1</text></g>
<g id="t-ALDH2" transform="translate(630.3)"><use href="#b"/><text>ALDH2</text></g>
<g id="t-RXRA" transform="translate(669)"><use href="#b"/><text>RXRA</text></g>
<g id="t-HRAS" transform="translate(707.7)"><use href="#b"/><text>HRAS</text></g>
<g id="t-FLT3" transform="translate(746.5)"><use href="#b"/><text>FLT3</text></g>
<g id="t-RBP4" transform="translate(785.2)"><use href="#b"/><text>RBP4</text></g>
<g id="t-AKR1C3" transform="translate(823.9)"><use href="#b"/><text>AKR1C3</text></g>
</g>
<g transform="translate(0,1563.6)">
<g id="t-CTSB" transform="translate(165.5)"><use href="#b"/><text>CTSB</text></g>
<g id="t-PLA2G7" transform="translate(204.2)"><use href="#b"/><text>PLA2G7</text></g>
<g id="t-BMP1" transform="translate(243)"><use href="#b"/><text>BMP1</text></g>
<g id="t-PLEC" transform="translate(281.7)"><use href="#b"/><text>PLEC</text></g>
<g id="t-FGF2" transform="translate(320.4)"><use href="#b"/><text>FGF2</text></g>
<g id="t-NAT1" transform="translate(359.2)"><use href="#b"/><text>NAT1</text></g>
<g id="t-NR5A2" transform="translate(397.9)"><use href="#b"/><text>NR5A2</text></g>
<g id="t-PTGS2" transform="translate(436.6)"><use href="#b"/><text>PTGS2</text></g>
<g id="t-LIMK1" transform="translate(475.3)"><use href="#b"/><text>LIMK1</text></g>
<g id="t-CHRNA7" transform="translate(514.1)"><use href="#b"/><text>CHRNA7</text></g>
<g id="t-CA2" transform="translate(552.8)"><use href="#b"/><text>CA2</text></g>
<g id="t-IGFBP5" transform="translate(591.5)"><use href="#b"/><text>IGFBP5</text></g>
<g id="t-CCR3" transform="translate(630.3)"><use href="#b"/><text>CCR3</text></g>
<g id="t-PDE4A" transform="translate(669)"><use href="#b"/><text>PDE4A</text></g>
<g id="t-FAP" transform="translate(707.7)"><use href="#b"/><text>FAP</text></g>
<g id="t-RAPGEF4" transform="translate(746.5)"><use href="#b"/><text>RAPGEF4</text></g>
<g id="t-ASAH1" transform="translate(785.2)"><use href="#b"/><text>ASAH1</text></g>
<g id="t-NOS2" transform="translate(823.9)"><use href="#b"/><text>NOS2</text></g>
</g>
<g id="t-CCR2" transform="translate(165.5,1582.8)"><use href="#b"/><text>CCR2</text></g>
</g>
<g id="outer-ring" class="o">
<g id="out-0"><circle cx="76" cy="523" r="13.5"/><text x="76" y="515">2-Acridinecarboxylic</text><text x="76" y="532">acid</text></g>
<g id="out-1"><circle cx="78" cy="495" r="13.5"/><text x="78" y="497">Herniarin</text></g>
<g id="out-2"><circle cx="82" cy="468" r="13.5"/><text x="82" y="469">Kaempferol-7-rhamnoside</text></g>
<g id="out-3"><circle cx="87" cy="440" r="13.5"/><text x="87" y="433">Spinoside</text><text x="87" y="450">A</text></g>
<g id="out-4"><circle cx="94" cy="413" r="13.5"/><text x="94" y="414">Codonopsine</text></g>
<g id="out-5"><circle cx="103" cy="387" r="13.5"/><text x="103" y="379">americanin</text><text x="103" y="396">A</text></g>
<g id="out-6"><circle cx="113" cy="361" r="13.5"/><text x="113" y="362">24-epicampesterol</text></g>
<g id="out-7"><circle cx="125" cy="336" r="13.5"/><text x="125" y="337">Stigmasterol</text></g>
<g id="out-8"><circle cx="139" cy="311" r="13.5"/><text x="139" y="312">Marckine</text></g>
<g id="out-9"><circle cx="154" cy="288" r="13.5"/><text x="154" y="289">(24S)-24-Propylcholesta-5-Ene-3beta-Ol</text></g>
<g id="out-10"><circle cx="171" cy="266" r="13.5"/></g>
<g id="out-11"><circle cx="189" cy="244" r="13.5"/><text x="189" y="237">Lantadene</text><text x="189" y="253">A</text></g>
<g id="out-12"><circle cx="208" cy="224" r="13.5"/><text x="208" y="226">(Z)-1-(2,4-dihydroxyphenyl)-3-phenylprop-2-en-1-one</text></g>
<g id="out-13"><circle cx="229" cy="205" r="13.5"/><text x="229" y="207">Glyzaglabrin</text></g>
<g id="out-14"><circle cx="251" cy="188" r="13.5"/><text x="251" y="190">(E,7R,11S)-3,7,11,15-tetramethylhexadec-2-en-1-ol</text></g>
<g id="out-15"><circle cx="274" cy="172" r="13.5"/><text x="274" y="173">Gentisin</text></g>
<g id="out-16"><circle cx="298" cy="157" r="13.5"/><text x="287" y="150">Rehmaglutin</text><text x="297" y="167">B</text></g>
<g id="out-17"><circle cx="323" cy="144" r="13.5"/><text x="323" y="149">CEV</text></g>
<g id="out-18"><circle cx="348" cy="133" r="13.5"/><text x="346" y="131" transform="rotate(48 346 131)">Esculetin</text></g>
<g id="out-19"><circle cx="374" cy="123" r="13.5"/><text x="377" y="127" transform="rotate(38 377 127)">Calarene</text></g>
<g id="out-20"><circle cx="401" cy="115" r="13.5"/><text x="401" y="116" transform="rotate(38 401 116)">11-Hydroxyrankinidine</text><text x="407" y="167" transform="rotate(50 407 167)">Cyanin</text></g>
<g id="out-21"><circle cx="428" cy="109" r="13.5"/><text x="431" y="99" transform="rotate(32 431 99)">Americanol A</text></g>
<g id="out-22"><circle cx="456" cy="105" r="13.5"/><text x="438" y="78" transform="rotate(35 438 78)">Spiraeoside</text></g>
<g id="out-23"><circle cx="484" cy="102" r="13.5"/><text x="478" y="107" transform="rotate(42 478 107)">8-Isopentenyl-kaempferol</text></g>
<g id="out-24"><circle cx="512" cy="101" r="13.5"/><text x="510" y="101" transform="rotate(41 510 101)">heptadecanoic</text></g>
<g id="out-25"><circle cx="540" cy="102" r="13.5"/><text x="538" y="102" transform="rotate(56 538 102)">arachidonate</text></g>
<g id="out-26"><circle cx="568" cy="105" r="13.5"/><text x="567" y="103" transform="rotate(90 567 103)">isoflavanone</text></g>
<g id="out-27"><circle cx="595" cy="109" r="13.5"/><text x="593" y="101" transform="rotate(90 593 101)">13-hydroxy-9,11-octadecadienoic</text></g>
<g id="out-28"><circle cx="622" cy="115" r="13.5"/><text x="622" y="115" transform="rotate(90 622 115)">Anhydrodolybrin</text></g>
<g id="out-29"><circle cx="649" cy="123" r="13.5"/><text x="651" y="114" transform="rotate(90 651 114)">Sitosterol</text></g>
<g id="out-30"><circle cx="675" cy="133" r="13.5"/></g>
<g id="out-31"><circle cx="701" cy="144" r="13.5"/><text x="701" y="148" transform="rotate(-58 701 148)">Licoisoflavone</text></g>
<g id="out-32"><circle cx="726" cy="157" r="13.5"/><text x="720" y="165" transform="rotate(-51 720 165)">beta-carotene</text></g>
<g id="out-33"><circle cx="750" cy="171" r="13.5"/></g>
<g id="out-34"><circle cx="773" cy="187" r="13.5"/><text x="775" y="178" transform="rotate(-40 775 178)">diosgenin</text></g>
<g id="out-35"><circle cx="794" cy="205" r="13.5"/><text x="795" y="207">Dictamnine</text></g>
<g id="out-36"><circle cx="815" cy="224" r="13.5"/><text x="815" y="225">(-)-alpha-cedrene</text></g>
<g id="out-37"><circle cx="835" cy="244" r="13.5"/><text x="835" y="245">diforutoside</text></g>
<g id="out-38"><circle cx="853" cy="265" r="13.5"/><text x="853" y="267">Ohioensin-A</text></g>
<g id="out-39"><circle cx="870" cy="287" r="13.5"/><text x="871" y="281">Yinyanghuo</text><text x="871" y="297">E</text></g>
<g id="out-40"><circle cx="885" cy="311" r="13.5"/><text x="884" y="305">curculigosaponin</text><text x="884" y="321">C</text></g>
<g id="out-41"><circle cx="898" cy="335" r="13.5"/><text x="898" y="337">Methoxyadiantifoline</text></g>
<g id="out-42"><circle cx="911" cy="360" r="13.5"/><text x="911" y="353">Daurinone</text><text x="911" y="369">(SCI)</text></g>
<g id="out-43"><circle cx="921" cy="386" r="13.5"/><text x="921" y="388">astragalosideII</text></g>
<g id="out-44"><circle cx="930" cy="413" r="13.5"/><text x="930" y="415">Farnesylacetone</text></g>
<g id="out-45"><circle cx="937" cy="440" r="13.5"/><text x="937" y="442">liquiritin</text></g>
<g id="out-46"><circle cx="942" cy="467" r="13.5"/><text x="942" y="468">8-Prenylwighteone</text></g>
<g id="out-47"><circle cx="946" cy="495" r="13.5"/><text x="946" y="497">Vulgarin</text></g>
<g id="out-48"><circle cx="948" cy="523" r="13.5"/><text x="948" y="525">6-O-vanilloylajugol</text></g>
<g id="out-49"><circle cx="948" cy="551" r="13.5"/><text x="948" y="553">4',5-Dihydroxyflavone</text></g>
<g id="out-50"><circle cx="946" cy="579" r="13.5"/><text x="946" y="580">sitosterol</text></g>
<g id="out-51"><circle cx="943" cy="606" r="13.5"/><text x="943" y="600">Maslinic</text><text x="943" y="617">Acid</text></g>
<g id="out-52"><circle cx="937" cy="634" r="13.5"/><text x="937" y="635">Aucubin</text></g>
<g id="out-53"><circle cx="930" cy="661" r="13.5"/><text x="930" y="663">alloaromadendrene</text></g>
<g id="out-54"><circle cx="921" cy="687" r="13.5"/><text x="921" y="689">Taraxerol</text></g>
<g id="out-55"><circle cx="911" cy="713" r="13.5"/><text x="911" y="707">Spinasteryl</text><text x="911" y="723">glucoside</text></g>
<g id="out-56"><circle cx="899" cy="738" r="13.5"/><text x="899" y="740">Supraene</text></g>
<g id="out-57"><circle cx="885" cy="763" r="13.5"/><text x="885" y="764">luteolin</text></g>
<g id="out-58"><circle cx="870" cy="786" r="13.5"/><text x="870" y="779">Yinyanghuo</text><text x="870" y="795">C</text></g>
<g id="out-59"><circle cx="853" cy="809" r="13.5"/><text x="853" y="802">curculigosaponin</text><text x="853" y="818">D</text></g>
<g id="out-60"><circle cx="835" cy="830" r="13.5"/><text x="835" y="823">3,2',4',6'-Tetrahydroxy-4,3'-dimethoxy</text><text x="835" y="840">chalcone</text></g>
<g id="out-61"><circle cx="816" cy="850" r="13.5"/><text x="816" y="852">suchilactone</text></g>
<g id="out-62"><circle cx="795" cy="869" r="13.5"/><text x="795" y="868" transform="rotate(20 795 868)">astragalosideI</text></g>
<g id="out-63"><circle cx="773" cy="886" r="13.5"/><text x="773" y="878" transform="rotate(30 773 878)">24-Methylenecycloartanol</text></g>
<g id="out-64"><circle cx="750" cy="902" r="13.5"/></g>
<g id="out-65"><circle cx="726" cy="917" r="13.5"/></g>
<g id="out-66"><circle cx="701" cy="930" r="13.5"/><text x="696" y="917" transform="rotate(25 696 917)">methyl-2,6,10-trimethyltridecanoate</text></g>
<g id="out-67"><circle cx="676" cy="941" r="13.5"/></g>
<g id="out-68"><circle cx="650" cy="951" r="13.5"/></g>
<g id="out-69"><circle cx="623" cy="959" r="13.5"/></g>
<g id="out-70"><circle cx="596" cy="965" r="13.5"/></g>
<g id="out-71"><circle cx="568" cy="969" r="13.5"/></g>
<g id="out-72"><circle cx="540" cy="972" r="13.5"/></g>
<g id="out-73"><circle cx="512" cy="973" r="13.5"/></g>
<g id="out-74"><circle cx="484" cy="972" r="13.5"/></g>
<g id="out-75"><circle cx="457" cy="970" r="13.5"/></g>
<g id="out-76"><circle cx="429" cy="965" r="13.5"/></g>
<g id="out-77"><circle cx="402" cy="959" r="13.5"/></g>
<g id="out-78"><circle cx="375" cy="951" r="13.5"/></g>
<g id="out-79"><circle cx="349" cy="941" r="13.5"/></g>
<g id="out-80"><circle cx="323" cy="930" r="13.5"/></g>
<g id="out-81"><circle cx="298" cy="917" r="13.5"/><text x="302" y="917">Arbutin</text></g>
<g id="out-82"><circle cx="274" cy="903" r="13.5"/><text x="277" y="905">cyclosativene</text></g>
<g id="out-83"><circle cx="252" cy="887" r="13.5"/></g>
<g id="out-84"><circle cx="230" cy="869" r="13.5"/><text x="230" y="869">Friedelin</text></g>
<g id="out-85"><circle cx="209" cy="850" r="13.5"/><text x="209" y="851">2-Hydroxyanthraquinone</text></g>
<g id="out-86"><circle cx="189" cy="830" r="13.5"/><text x="189" y="823">curculigoside</text><text x="189" y="839">D</text></g>
<g id="out-87"><circle cx="171" cy="809" r="13.5"/><text x="171" y="811">Cycloartenol</text></g>
<g id="out-88"><circle cx="155" cy="787" r="13.5"/><text x="155" y="787">alexandrin</text></g>
<g id="out-89"><circle cx="139" cy="763" r="13.5"/><text x="139" y="756">9,17-OCTADECADIENAL</text><text x="139" y="773">(Z)</text></g>
<g id="out-90"><circle cx="126" cy="739" r="13.5"/><text x="126" y="739">beta-Cholestanol</text></g>
<g id="out-91"><circle cx="113" cy="714" r="13.5"/><text x="113" y="714">neoisoliquiritin</text></g>
<g id="out-92"><circle cx="103" cy="688" r="13.5"/><text x="103" y="689">Inermine</text></g>
<g id="out-93"><circle cx="94" cy="661" r="13.5"/><text x="94" y="663">Mairin</text></g>
<g id="out-94"><circle cx="87" cy="634" r="13.5"/><text x="87" y="627">2-Methylhexadecanoic</text><text x="87" y="643">acid</text></g>
<g id="out-95"><circle cx="82" cy="607" r="13.5"/><text x="82" y="608">Japonine</text></g>
<g id="out-96"><circle cx="78" cy="579" r="13.5"/><text x="78" y="580">glutinoside</text></g>
<g id="out-97"><circle cx="76" cy="551" r="13.5"/><text x="76" y="544">gondoic</text><text x="76" y="560">acid</text></g>
</g>
<g id="inner-ring" class="i">
<g id="in-0"><ellipse cx="212" cy="525" rx="19" ry="17"/><text x="210" y="515">Methyl</text><text x="210" y="535">trametenolate</text></g>
<g id="in-1"><ellipse cx="217" cy="483" rx="19" ry="17"/><text x="217" y="483">isoliquiritigenin</text></g>
<g id="in-2"><ellipse cx="227" cy="442" rx="19" ry="17"/><text x="225" y="433">(Z)-nonadec-6-enoic</text><text x="225" y="452">acid</text></g>
<g id="in-3"><ellipse cx="244" cy="403" rx="19" ry="17"/><text x="244" y="403">Chrysophanol</text></g>
<g id="in-4"><ellipse cx="266" cy="367" rx="19" ry="17"/><text x="264" y="367">4-Methylcatechol</text></g>
<g id="in-5"><ellipse cx="293" cy="334" rx="19" ry="17"/><text x="293" y="334">Esculin</text></g>
<g id="in-6"><ellipse cx="324" cy="306" rx="19" ry="17"/><text x="325" y="307">Frutinone A</text></g>
<g id="in-7"><ellipse cx="360" cy="282" rx="19" ry="17"/><text x="358" y="285" transform="rotate(20 358 285)">Chrysanthemaxanthin</text></g>
<g id="in-8"><ellipse cx="398" cy="264" rx="19" ry="17"/><text class="st" x="334" y="190" transform="rotate(37 334 190)">2-hydroxy-1,3,6,7-tetramethoxyxanthone</text></g>
<g id="in-9"><ellipse cx="438" cy="252" rx="19" ry="17"/><text x="562" y="328" transform="rotate(44 562 328)">5-hydroxy-2-(2-hydroxybenzoyl)-4-(hydroxymethyl)benzoate</text></g>
<g id="in-10"><ellipse cx="480" cy="246" rx="19" ry="17"/></g>
<g id="in-11"><ellipse cx="523" cy="246" rx="19" ry="17"/><text x="533" y="233" transform="rotate(68 533 233)">Curcumadiol</text></g>
<g id="in-12"><ellipse cx="565" cy="252" rx="19" ry="17"/><text x="588" y="250" transform="rotate(55 588 250)">hederagenin</text></g>
<g id="in-13"><ellipse cx="605" cy="264" rx="19" ry="17"/><text x="610" y="275" transform="rotate(55 610 275)">Stigmasteryl</text></g>
<g id="in-14"><ellipse cx="644" cy="282" rx="19" ry="17"/><text x="645" y="292">ferulate</text></g>
<g id="in-15"><ellipse cx="679" cy="305" rx="19" ry="17"/><text x="681" y="304">naringenin</text></g>
<g id="in-16"><ellipse cx="710" cy="333" rx="19" ry="17"/><text x="712" y="334">quercetin</text></g>
<g id="in-17"><ellipse cx="738" cy="366" rx="19" ry="17"/><text x="736" y="367">2-methyl-5-decanone</text></g>
<g id="in-18"><ellipse cx="760" cy="402" rx="19" ry="17"/><text x="756" y="403">Hederagenol</text></g>
<g id="in-19"><ellipse cx="776" cy="441" rx="19" ry="17"/><text x="773" y="442">jioglutin D</text></g>
<g id="in-20"><ellipse cx="787" cy="482" rx="19" ry="17"/><text x="788" y="483">oleanolic acid</text></g>
<g id="in-21"><ellipse cx="792" cy="524" rx="19" ry="17"/><text x="791" y="525">apigenin</text></g>
<g id="in-22"><ellipse cx="790" cy="566" rx="19" ry="17"/><text x="790" y="568">3'-Methoxydaidzein</text></g>
<g id="in-23"><ellipse cx="783" cy="608" rx="19" ry="17"/><text x="783" y="609">Caffeic Acid</text></g>
<g id="in-24"><ellipse cx="769" cy="648" rx="19" ry="17"/><text x="768" y="650">Sinapic acid</text></g>
<g id="in-25"><ellipse cx="750" cy="686" rx="19" ry="17"/><text x="749" y="687">Ammidin</text></g>
<g id="in-26"><ellipse cx="725" cy="720" rx="19" ry="17"/><text x="724" y="721">2-methoxyfuranodiene</text></g>
<g id="in-27"><ellipse cx="696" cy="751" rx="19" ry="17"/><text x="692" y="743">Asperuloside</text><text x="692" y="763">tetraacetate</text></g>
<g id="in-28"><ellipse cx="662" cy="777" rx="19" ry="17"/><text x="658" y="778">Anhydroicaritin</text></g>
<g id="in-29"><ellipse cx="626" cy="797" rx="19" ry="17"/><text x="635" y="821" transform="rotate(15 635 821)">Curculigenin C</text></g>
<g id="in-30"><ellipse cx="586" cy="813" rx="19" ry="17"/><text x="566" y="799" transform="rotate(18 566 799)">astrachrysoside</text><text x="555" y="873">A</text></g>
<g id="in-31"><ellipse cx="545" cy="822" rx="19" ry="17"/><text x="526" y="801" transform="rotate(22 526 801)">Cholesteryl</text><text x="497" y="850" transform="rotate(62 497 850)">ferulate</text></g>
<g id="in-32"><ellipse cx="502" cy="825" rx="19" ry="17"/></g>
<g id="in-33"><ellipse cx="460" cy="822" rx="19" ry="17"/><text x="462" y="796" transform="rotate(55 462 796)">Yinyanghuo A</text></g>
<g id="in-34"><ellipse cx="419" cy="813" rx="19" ry="17"/><text x="419" y="800" transform="rotate(90 419 800)">curculigoside</text></g>
<g id="in-35"><ellipse cx="379" cy="798" rx="19" ry="17"/><text x="385" y="783">Curculigoside</text><text x="358" y="806">B_qt</text></g>
<g id="in-36"><ellipse cx="342" cy="777" rx="19" ry="17"/><text x="326" y="778">astragaloside</text></g>
<g id="in-37"><ellipse cx="309" cy="751" rx="19" ry="17"/><text x="309" y="753">campesterol</text></g>
<g id="in-38"><ellipse cx="279" cy="721" rx="19" ry="17"/><text x="275" y="711">licorice</text><text x="273" y="731">glycoside E</text></g>
<g id="in-39"><ellipse cx="255" cy="687" rx="19" ry="17"/><text x="253" y="687">Isomangiferin</text></g>
<g id="in-40"><ellipse cx="235" cy="649" rx="19" ry="17"/><text x="236" y="649">cis-Thujopsene</text></g>
<g id="in-41"><ellipse cx="222" cy="609" rx="19" ry="17"/><text x="219" y="600">(E,E)-3,5-Di-O-caffeoylquinic</text><text x="219" y="620">acid</text></g>
<g id="in-42"><ellipse cx="214" cy="567" rx="19" ry="17"/><text x="212" y="558">METHYL</text><text x="212" y="578">PALMITOLEATE</text></g>
</g>
<g id="center"><polygon points="507,472 578,544 507,616 436,544" fill="#f26aa6"/><text x="507" y="544" font-size="23" fill="#111">Baji capsule</text></g>
</svg>
